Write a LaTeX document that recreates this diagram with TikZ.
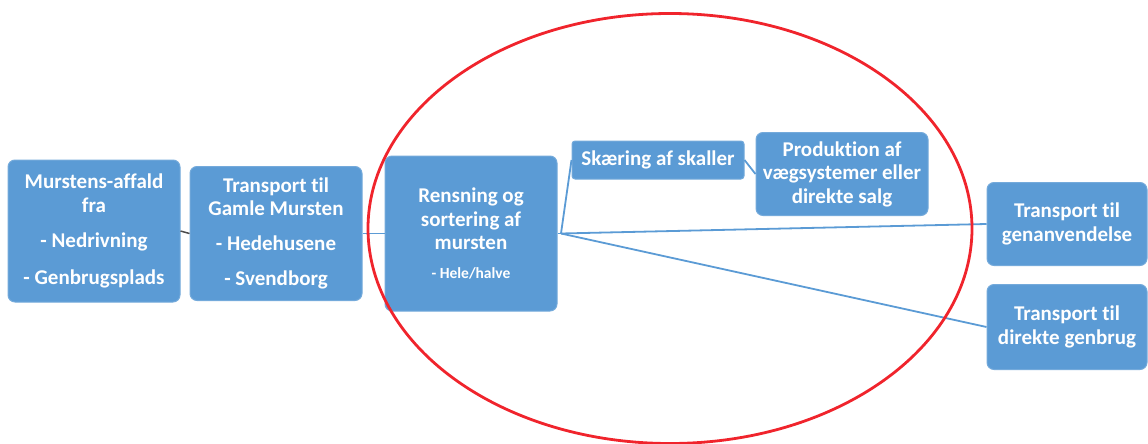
\documentclass[tikz,border=0pt]{standalone}
\usepackage{fontspec}
\setmainfont{Carlito}[Ligatures=NoCommon]
\usetikzlibrary{shapes.geometric}
\definecolor{boxblue}{HTML}{5B9BD5}
\definecolor{lineblue}{HTML}{5B9BD5}
\definecolor{ringred}{HTML}{F0242C}
\begin{document}
\begin{tikzpicture}[x=1pt,y=-1pt,
  box/.style={draw=boxblue!85!white, line width=1pt, fill=boxblue, rounded corners=7pt,
    text=white, align=center, inner sep=0pt, font=\bfseries\fontsize{21}{23.5}\selectfont},
  conn/.style={draw=lineblue, line width=1.8pt},
  ring/.style={draw=ringred, line width=2.8pt}]
\useasboundingbox (0,0) rectangle (1148,444);
\node[box, minimum width=172pt, minimum height=142pt] (b1) at (94,231)
  {Murstens-affald\\fra\\[12pt]- Nedrivning\\[13pt]- Genbrugsplads};
\node[box, minimum width=172pt, minimum height=134pt] (b2) at (276,233.5)
  {Transport til\\Gamle Mursten\\[11pt]- Hedehusene\\[12pt]- Svendborg};
\node[box, minimum width=172pt, minimum height=155pt] (b3) at (471,233.5)
  {Rensning og\\sortering af\\mursten\\[5pt]{\fontsize{15.5}{17}\selectfont - Hele/halve}};
\node[box, minimum width=172pt, minimum height=38pt, rounded corners=3pt] (b4) at (658,160)
  {Skæring af skaller};
\node[box, minimum width=172pt, minimum height=83pt] (b5) at (842,174)
  {Produktion af\\vægsystemer eller\\direkte salg};
\node[box, minimum width=160pt, minimum height=83pt] (b6) at (1067,224)
  {Transport til\\genanvendelse};
\node[box, minimum width=160pt, minimum height=85pt] (b7) at (1067,327)
  {Transport til\\direkte genbrug};
\coordinate (hub) at (561,233.5);
\draw[draw=black!70, line width=1.5pt] (b1.east) -- (b2.west);
\draw[conn] (b2.east) -- (b3.west);
\draw[conn] (b3.east) -- (hub);
\draw[conn] (hub) -- (b4.west);
\draw[conn] (b4.east) -- (b5.west);
\draw[conn] (hub) -- (b6.west);
\draw[conn] (hub) -- (b7.west);
\node[ring, ellipse, minimum width=604pt, minimum height=430pt, inner sep=0pt] (ring) at (670,228.5) {};
\end{tikzpicture}
\end{document}
